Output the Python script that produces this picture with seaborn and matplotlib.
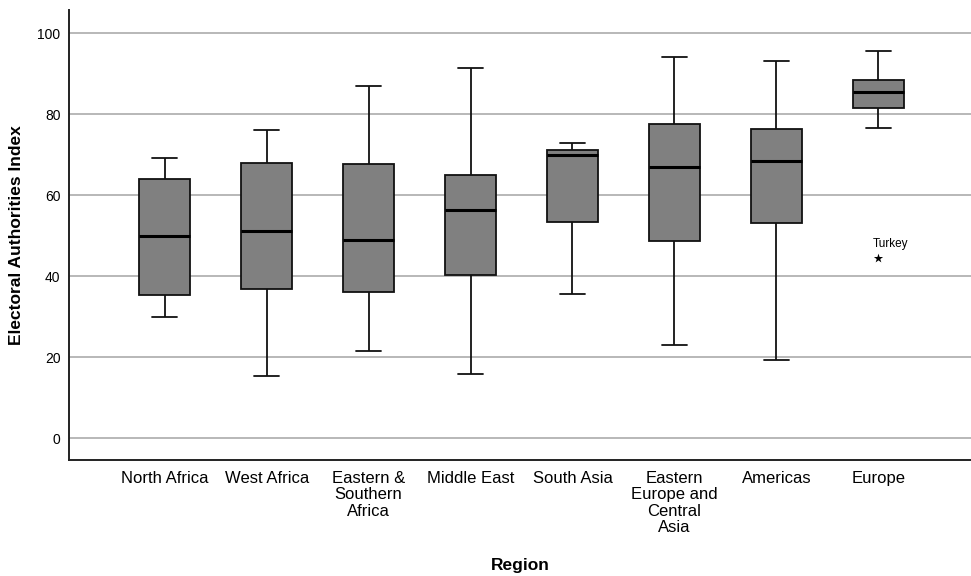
import matplotlib
matplotlib.use("Agg")
import matplotlib.pyplot as plt
import pandas as pd
import seaborn as sns

# five-number summaries (whisker ends, quartiles, median)
regions = ["North Africa", "West Africa", "Eastern &\nSouthern\nAfrica", "Middle East",
           "South Asia", "Eastern\nEurope and\nCentral\nAsia", "Americas", "Europe"]
lo_whisker = [30.0, 15.3, 21.4, 15.9, 35.5, 22.9, 19.4, 76.5]
q1 = [35.4, 36.9, 36.1, 40.2, 53.3, 48.7, 53.0, 81.4]
median = [50.0, 51.2, 48.8, 56.4, 69.9, 66.9, 68.5, 85.5]
q3 = [64.1, 67.9, 67.6, 65.0, 71.2, 77.6, 76.4, 88.4]
hi_whisker = [69.2, 76.2, 87.0, 91.3, 72.9, 94.1, 93.1, 95.5]

# extreme value shown separately
outlier_region = ["Europe"]
outlier_value = [44.4]
outlier_label = ["Turkey"]

rows = []
for i, r in enumerate(regions):
    for v in (lo_whisker[i], q1[i], median[i], q3[i], hi_whisker[i]):
        rows.append({"Region": r, "value": v})
df = pd.DataFrame(rows)

sns.set_style("white")
plt.rcParams["font.family"] = ["Liberation Sans", "DejaVu Sans"]
plt.rcParams["text.color"] = "black"
plt.rcParams["axes.labelcolor"] = "black"
plt.rcParams["xtick.color"] = "black"
plt.rcParams["ytick.color"] = "black"

fig = plt.figure(figsize=(9.71, 5.76), dpi=100)
ax = fig.add_axes([0.071, 0.2014, 0.929, 0.7812])

sns.boxplot(data=df, x="Region", y="value", order=regions, ax=ax,
            color="#808080", saturation=1, width=0.5, whis=(0, 100),
            linecolor="#111111", linewidth=1.3,
            medianprops={"color": "black", "linewidth": 2.2},
            showfliers=False)

sns.stripplot(x=outlier_region, y=outlier_value, order=regions, ax=ax,
              jitter=False, marker="*", color="black", size=7, linewidth=0)
for r, v, lab in zip(outlier_region, outlier_value, outlier_label):
    ax.text(regions.index(r) - 0.05, v + 2.0, lab, fontsize=8.5, ha="left", va="bottom")

ax.set_ylim(-5.4, 105.7)
ax.set_xlim(-0.94, 7.91)
ax.set_yticks([0, 20, 40, 60, 80, 100])
ax.yaxis.grid(True, color="#ababab", linewidth=1.2)
ax.set_axisbelow(True)

for s in ("top", "right"):
    ax.spines[s].set_visible(False)
for s in ("left", "bottom"):
    ax.spines[s].set_color("#222222")
    ax.spines[s].set_linewidth(1.4)

ax.tick_params(axis="both", length=0)
ax.tick_params(axis="y", labelsize=10, pad=6)
ax.tick_params(axis="x", labelsize=12, pad=8)
for t in ax.get_xticklabels():
    t.set_linespacing(1.1)

ax.set_xlabel("Region", fontsize=12.5, fontweight="bold", labelpad=17)
ax.set_ylabel("Electoral Authorities Index", fontsize=12.5, fontweight="bold", labelpad=10)

fig.savefig("out.png", dpi=100)
